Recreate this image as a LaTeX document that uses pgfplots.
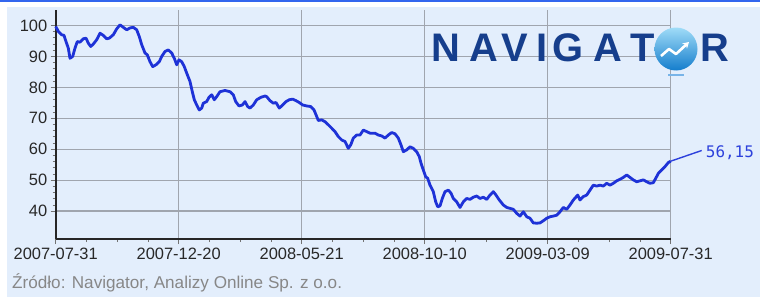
\documentclass[border=0pt]{standalone}
\usepackage{pgfplots}
\pgfplotsset{compat=1.18}
\usetikzlibrary{arrows.meta}
\usepackage{fontspec}
\setmainfont{Liberation Sans}
\newfontfamily\monofont{DejaVu Sans Mono}
\definecolor{bg}{RGB}{227,238,252}
\definecolor{topbar}{RGB}{51,102,238}
\definecolor{dataline}{RGB}{30,50,215}
\definecolor{labblue}{RGB}{45,65,220}
\definecolor{gridc}{RGB}{160,165,174}
\definecolor{ticklab}{RGB}{40,40,40}
\definecolor{srcc}{RGB}{135,135,135}
\definecolor{logoblue}{RGB}{22,62,140}
\definecolor{globetop}{RGB}{160,220,248}
\definecolor{globebot}{RGB}{20,125,205}
\definecolor{dashc}{RGB}{120,180,232}
\begin{document}
\begin{tikzpicture}[x=1bp,y=1bp]
\path[use as bounding box] (0,0) rectangle (760,297);
\fill[white] (0,0) rectangle (760,297);
\fill[bg] (7,0) rectangle (760,290);
\fill[topbar] (0,295) rectangle (760,297);
\begin{axis}[
  at={(55.7bp,58bp)}, anchor=south west, scale only axis,
  width=615bp, height=229bp,
  xmin=0, xmax=615, ymin=31, ymax=105,
  axis x line*=bottom, axis y line*=left,
  xtick={0,123,246,369,492,615},
  xticklabels={2007-07-31,2007-12-20,2008-05-21,2008-10-10,2009-03-09,2009-07-31},
  ytick={40,50,60,70,80,90,100},
  minor x tick num=3, minor y tick num=4,
  tick align=outside, major tick length=5bp, minor tick length=3bp,
  tick style={black!55, line width=0.8bp},
  grid=major, major grid style={gridc, line width=1.4bp},
  axis line style={black!85, line width=1.8bp},
  ticklabel style={font=\fontsize{16.5}{18}\selectfont, text=ticklab},
  /pgf/number format/assume math mode=true,
  clip=false,
]
\addplot[dataline, line width=2.8bp, line join=round, no marks] table {
x y
0 99.7
2.6 98.1
6 97.0
8.3 96.8
10.3 94.8
12.6 92.7
14.3 89.4
17 90.0
19.3 92.7
21.6 94.8
24.3 94.6
27.6 95.7
30.3 95.9
32.6 94.3
35 93.2
37.6 94.0
41 95.4
44.3 97.5
47.6 96.8
51 95.7
53.6 95.9
57.6 97.0
61 98.9
64.3 100.2
67.6 99.4
71 98.6
74.3 99.2
77.6 99.4
81 98.6
83.6 96.4
86 93.8
89.3 91.1
91.6 90.5
94.3 88.3
97 86.7
100.3 87.3
103.6 88.3
106 90.0
109.3 91.6
112.6 92.1
116 91.1
118.6 89.4
121 87.3
123.3 88.9
126 88.3
128.6 86.7
131 84.6
134.3 81.9
136.6 78.6
138.6 76.0
141 74.3
143.6 72.7
146 73.3
147.6 74.9
151 75.4
153.3 76.8
156 77.6
158.6 76.0
161 77.0
164.3 78.6
169.3 79.0
174.3 78.6
177.6 77.6
180 75.4
183.3 74.0
186.6 74.3
189.3 75.4
192 73.8
194.3 73.3
197.6 74.3
201 76.0
205.3 76.8
209.3 77.2
211 77.0
214.3 75.7
217.6 74.9
220.3 75.1
223.6 73.3
227 74.3
230.3 75.4
233.6 76.0
237 76.2
240.3 75.7
243.6 75.1
247 74.3
251 74.0
255 73.8
258.3 72.7
261 70.6
262.6 69.3
266 69.5
269.3 68.9
272.6 67.9
276 66.8
279.3 65.7
282.6 64.1
286 63.0
289.3 62.5
292.6 60.3
295 61.4
297.6 63.6
301 64.6
304.3 64.6
307.6 66.2
311 65.7
314.3 65.2
319.3 65.2
322.6 64.6
326 64.3
329.3 63.6
332.6 64.6
336 65.4
339.3 65.0
342.6 63.6
345.3 61.4
347.6 59.2
351 59.8
354.3 60.8
357.6 60.3
361 59.2
363.6 57.6
365.3 55.5
367.6 53.3
370 51.1
372 50.6
374.3 48.4
377.6 46.3
380 43.0
382 41.4
384.3 41.7
386.6 44.1
389.3 46.3
392.6 46.8
395.3 45.8
397.6 44.1
401 43.0
404.3 41.2
407.6 43.0
411 44.1
414.3 43.8
417.6 44.5
421 44.9
424.3 44.1
427.6 44.5
431 43.8
434.3 45.2
437.6 46.3
440.3 45.2
443.6 43.6
447.6 42.0
451 41.2
454.3 40.9
457.6 40.6
461 39.3
464.3 38.4
467.6 39.8
471 38.2
474.3 37.7
477.6 36.2
481 36.1
484.3 36.2
487.6 36.9
491 37.7
494.3 38.2
497.6 38.4
501 38.7
504.3 39.8
507.6 41.2
511 40.6
514.3 42.0
517.6 43.6
522 45.2
524.3 43.6
527.6 44.7
531 45.2
534.3 46.8
537.6 48.4
541 48.1
544.3 48.4
547.6 48.1
551 49.0
554.3 48.4
557.6 49.0
561 49.8
564.3 50.3
567.6 50.9
571 51.7
574.3 50.9
577.6 50.1
581 49.5
584.3 49.8
587.6 50.1
591 49.5
594.3 49.0
597.6 49.2
600 50.6
602.6 52.2
606 53.3
609.3 54.4
612.6 55.7
615 56.15
};
\addplot[labblue, line width=1.4bp, no marks] coordinates {(615,56.15) (646,59.6)};
\node[anchor=west, text=labblue, font=\monofont\fontsize{16}{18}\selectfont, inner sep=0pt] at (axis cs:650,58.9) {56,15};
\end{axis}
% source line
\node[anchor=west, text=srcc, font=\fontsize{17.2}{19}\selectfont, inner sep=0pt] at (12,14) {Źródło: Navigator, Analizy Online Sp. z o.o.};
% logo
\begin{scope}[every node/.style={anchor=base, inner sep=0pt, text=logoblue, font=\bfseries\fontsize{40}{40}\selectfont}]
\node at (446,236) {N};
\node at (484,236) {A};
\node at (515,236) {V};
\node at (542,236) {I};
\node at (568,236) {G};
\node at (608,236) {A};
\node at (643,236) {T};
\node at (715,236) {R};
\end{scope}
\shade[top color=globetop, bottom color=globebot] (676,248) circle (21.5);
\draw[white, line width=2.6bp, line join=round, -{Stealth[length=6bp,width=7bp]}] (661,241) -- (669,248) -- (676,243) -- (689,255);
\draw[dashc, line width=2.2bp] (668,222) -- (684,222);
\end{tikzpicture}
\end{document}
